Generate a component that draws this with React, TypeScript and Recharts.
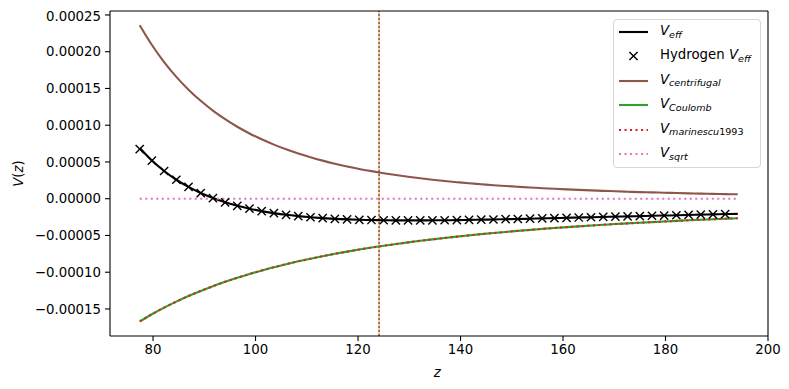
import React from 'react';
import { ComposedChart, Line, XAxis, YAxis, ReferenceLine } from 'recharts';

// z positions (hydrogen markers sit at the first 49; the last is the curve end)
const zValues = [
  77.4, 79.78, 82.16, 84.54, 86.92, 89.3, 91.68, 94.06, 96.44, 98.82,
  101.2, 103.58, 105.96, 108.34, 110.72, 113.1, 115.48, 117.86, 120.24, 122.62,
  125.0, 127.38, 129.76, 132.14, 134.52, 136.9, 139.28, 141.66, 144.04, 146.42,
  148.8, 151.18, 153.56, 155.94, 158.32, 160.7, 163.08, 165.46, 167.84, 170.22,
  172.6, 174.98, 177.36, 179.74, 182.12, 184.5, 186.88, 189.26, 191.64, 194.1,
];

// values in units of 1e-6
const centrifugal = [
  236.0, 209.1, 185.9, 165.8, 148.4, 133.2, 119.9, 108.2, 97.9, 88.8,
  80.8, 73.6, 67.2, 61.5, 56.4, 51.8, 47.6, 43.9, 40.5, 37.5,
  34.7, 32.2, 29.9, 27.8, 25.9, 24.1, 22.5, 21.0, 19.7, 18.4,
  17.3, 16.2, 15.2, 14.3, 13.5, 12.7, 12.0, 11.3, 10.7, 10.1,
  9.5, 9.0, 8.6, 8.1, 7.7, 7.3, 6.9, 6.6, 6.3, 6.0,
];
const coulomb = [
  -167.0, -157.2, -148.2, -140.0, -132.4, -125.5, -119.0, -113.1, -107.6, -102.4,
  -97.7, -93.2, -89.1, -85.2, -81.6, -78.2, -75.0, -72.0, -69.2, -66.5,
  -64.0, -61.7, -59.4, -57.3, -55.3, -53.4, -51.6, -49.9, -48.2, -46.7,
  -45.2, -43.8, -42.4, -41.1, -39.9, -38.7, -37.6, -36.5, -35.5, -34.5,
  -33.6, -32.7, -31.8, -31.0, -30.2, -29.4, -28.6, -27.9, -27.2, -26.6,
];
const marinescu = [
  -167.0, -157.2, -148.2, -140.0, -132.4, -125.5, -119.0, -113.1, -107.6, -102.4,
  -97.7, -93.2, -89.1, -85.2, -81.6, -78.2, -75.0, -72.0, -69.2, -66.5,
  -64.0, -61.7, -59.4, -57.3, -55.3, -53.4, -51.6, -49.9, -48.2, -46.7,
  -45.2, -43.8, -42.4, -41.1, -39.9, -38.7, -37.6, -36.5, -35.5, -34.5,
  -33.6, -32.7, -31.8, -31.0, -30.2, -29.4, -28.6, -27.9, -27.2, -26.6,
];
const veff = [
  69.0, 51.9, 37.7, 25.8, 16.0, 7.7, 0.9, -4.9, -9.7, -13.6,
  -16.9, -19.6, -21.9, -23.7, -25.2, -26.4, -27.4, -28.1, -28.7, -29.0,
  -29.3, -29.5, -29.5, -29.5, -29.4, -29.3, -29.1, -28.8, -28.5, -28.3,
  -27.9, -27.6, -27.2, -26.8, -26.4, -26.0, -25.6, -25.2, -24.8, -24.4,
  -24.1, -23.7, -23.2, -22.9, -22.5, -22.1, -21.7, -21.3, -20.9, -20.6,
];
const hydrogenVeff = [
  67.5, 51.9, 37.7, 25.8, 16.0, 7.7, 0.9, -4.9, -9.7, -13.6,
  -16.9, -19.6, -21.9, -23.7, -25.2, -26.4, -27.4, -28.1, -28.7, -29.0,
  -29.3, -29.5, -29.5, -29.5, -29.4, -29.3, -29.1, -28.8, -28.5, -28.3,
  -27.9, -27.6, -27.2, -26.8, -26.4, -26.0, -25.6, -25.2, -24.8, -24.4,
  -24.1, -23.7, -23.2, -22.9, -22.5, -22.1, -21.7, -21.3, -20.9,
];
const sqrtLine = [
  { z: 77.4, v: 0 },
  { z: 194.1, v: 0 },
];
const markerZ = 124.1;

const xTicks = [80, 100, 120, 140, 160, 180, 200];
const yTicks = [-0.00015, -0.0001, -0.00005, 0, 0.00005, 0.0001, 0.00015, 0.0002, 0.00025];

const SCALE = 1e-6;
const data = zValues.map((z, i) => ({
  z,
  veff: veff[i] * SCALE,
  hyd: hydrogenVeff[i] !== undefined ? hydrogenVeff[i] * SCALE : null,
  cen: centrifugal[i] * SCALE,
  cou: coulomb[i] * SCALE,
  mar: marinescu[i] * SCALE,
}));

const FONT = '"DejaVu Sans", Verdana, sans-serif';
const Y_MIN = -0.0001868;
const Y_MAX = 0.0002554;
const X_MIN = 71.6;
const X_MAX = 200;

const fmtY = (v: number) => {
  const s = Math.abs(v).toFixed(5);
  return v < -1e-12 ? '\u2212' + s : s;
};

const XMark = (props: any) => {
  const { cx, cy, payload } = props;
  if (cx == null || cy == null || payload == null || payload.hyd == null) return <g key={props.key} />;
  const r = 4.1;
  return (
    <g key={props.key}>
      <line x1={cx - r} y1={cy - r} x2={cx + r} y2={cy + r} stroke="#000" strokeWidth={1.4} />
      <line x1={cx - r} y1={cy + r} x2={cx + r} y2={cy - r} stroke="#000" strokeWidth={1.4} />
    </g>
  );
};

const Sub = ({ children }: { children: React.ReactNode }) => (
  <span style={{ fontSize: '0.72em', position: 'relative', top: '0.28em' }}>{children}</span>
);
const V = () => <i>V</i>;

const legendRows: { kind: string; color: string; label: React.ReactNode }[] = [
  { kind: 'line', color: '#000000', label: <><V /><Sub><i>eff</i></Sub></> },
  { kind: 'x', color: '#000000', label: <>Hydrogen <V /><Sub><i>eff</i></Sub></> },
  { kind: 'line', color: '#8c564b', label: <><V /><Sub><i>centrifugal</i></Sub></> },
  { kind: 'line', color: '#2ca02c', label: <><V /><Sub><i>Coulomb</i></Sub></> },
  { kind: 'dot', color: '#d62728', label: <><V /><Sub><i>marinescu</i>1993</Sub></> },
  { kind: 'dot', color: '#e377c2', label: <><V /><Sub><i>sqrt</i></Sub></> },
];

const Legend = () => (
  <div
    style={{
      position: 'absolute',
      left: 605,
      top: 10.7,
      width: 148,
      height: 149,
      boxSizing: 'border-box',
      border: '1px solid #d6d6d6',
      borderRadius: 4,
      background: 'rgba(255,255,255,0.85)',
      fontFamily: FONT,
      fontSize: 13.3,
      color: '#000',
    }}
  >
    {legendRows.map((r, i) => {
      const cy = 12.3 + 24.4 * i;
      return (
        <React.Fragment key={i}>
          <svg style={{ position: 'absolute', left: 4, top: cy - 6 }} width={32} height={12}>
            {r.kind === 'line' && <line x1={1} y1={6} x2={30} y2={6} stroke={r.color} strokeWidth={2.1} />}
            {r.kind === 'dot' && (
              <line x1={1} y1={6} x2={30} y2={6} stroke={r.color} strokeWidth={2.1} strokeDasharray="2.1 3.4" />
            )}
            {r.kind === 'x' && (
              <g stroke="#000" strokeWidth={1.4}>
                <line x1={15.5 - 4.1} y1={6 - 4.1} x2={15.5 + 4.1} y2={6 + 4.1} />
                <line x1={15.5 - 4.1} y1={6 + 4.1} x2={15.5 + 4.1} y2={6 - 4.1} />
              </g>
            )}
          </svg>
          <div
            style={{
              position: 'absolute',
              left: 46,
              top: cy - 9,
              lineHeight: '15px',
              whiteSpace: 'nowrap',
            }}
          >
            {r.label}
          </div>
        </React.Fragment>
      );
    })}
  </div>
);

export default function App() {
  const tickStyle = { fill: '#000', fontSize: 13.3, fontFamily: FONT };
  return (
    <div style={{ position: 'relative', width: 773, height: 373 }}>
      <ComposedChart
        width={773}
        height={373}
        data={data}
        margin={{ top: 3, right: 13, bottom: 0, left: 0 }}
      >
        <XAxis
          dataKey="z"
          type="number"
          domain={[X_MIN, X_MAX]}
          ticks={xTicks}
          allowDataOverflow
          height={45}
          tickSize={5}
          tickMargin={4}
          tick={tickStyle}
          stroke="#000"
          axisLine={{ stroke: '#000', strokeWidth: 1.1 }}
          tickLine={{ stroke: '#000', strokeWidth: 1.1 }}
          label={() => (
            <text x={429.3} y={369} textAnchor="middle" fontFamily={FONT} fontSize={13.3} fontStyle="italic" fill="#000">
              z
            </text>
          )}
        />
        <YAxis
          type="number"
          domain={[Y_MIN, Y_MAX]}
          ticks={yTicks}
          allowDataOverflow
          width={102}
          tickSize={5}
          tickMargin={4}
          tickFormatter={fmtY}
          tick={tickStyle}
          stroke="#000"
          axisLine={{ stroke: '#000', strokeWidth: 1.1 }}
          tickLine={{ stroke: '#000', strokeWidth: 1.1 }}
          label={() => (
            <text
              transform="translate(14.5,165.6) rotate(-90)"
              textAnchor="middle"
              fontFamily={FONT}
              fontSize={13.3}
              fill="#000"
            >
              <tspan fontStyle="italic">V</tspan>(<tspan fontStyle="italic">z</tspan>)
            </text>
          )}
        />
        <ReferenceLine x={markerZ} stroke="#ff7f0e" strokeWidth={0.8} ifOverflow="extendDomain" />
        <ReferenceLine x={markerZ} stroke="#000" strokeWidth={0.8} strokeDasharray="2 2" ifOverflow="extendDomain" />
        <Line
          dataKey="veff"
          type="monotone"
          stroke="#000000"
          strokeWidth={2.1}
          dot={false}
          activeDot={false}
          isAnimationActive={false}
        />
        <Line
          dataKey="hyd"
          stroke="none"
          strokeWidth={0}
          dot={XMark}
          activeDot={false}
          isAnimationActive={false}
        />
        <Line
          dataKey="cen"
          type="monotone"
          stroke="#8c564b"
          strokeWidth={2.1}
          dot={false}
          activeDot={false}
          isAnimationActive={false}
        />
        <Line
          dataKey="cou"
          type="monotone"
          stroke="#2ca02c"
          strokeWidth={2.1}
          dot={false}
          activeDot={false}
          isAnimationActive={false}
        />
        <Line
          dataKey="mar"
          type="monotone"
          stroke="#d62728"
          strokeWidth={2.1}
          strokeDasharray="2.1 3.4"
          dot={false}
          activeDot={false}
          isAnimationActive={false}
        />
        <Line
          data={sqrtLine}
          dataKey="v"
          type="linear"
          stroke="#e377c2"
          strokeWidth={2.1}
          strokeDasharray="2.1 3.4"
          dot={false}
          activeDot={false}
          isAnimationActive={false}
        />
        <ReferenceLine y={Y_MAX} stroke="#000" strokeWidth={1.1} ifOverflow="visible" />
        <ReferenceLine x={X_MAX} stroke="#000" strokeWidth={1.1} ifOverflow="visible" />
      </ComposedChart>
      <Legend />
    </div>
  );
}
